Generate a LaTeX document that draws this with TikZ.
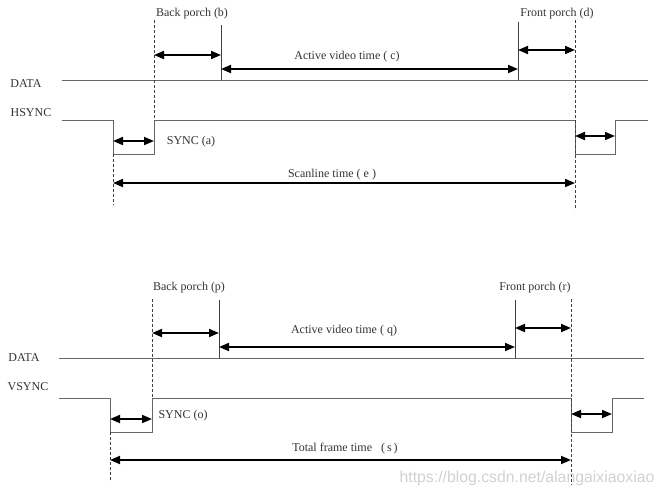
\documentclass[tikz,border=0pt]{standalone}
\usepackage{fontspec}
\setmainfont{Liberation Serif}
\newfontfamily\wmfont{Liberation Sans}
\usetikzlibrary{arrows.meta}
\begin{document}
\begin{tikzpicture}[x=1pt,y=-1pt,
  sig/.style={draw=black!60, line width=0.9pt},
  guide/.style={draw=black!75, line width=0.9pt, dash pattern=on 3pt off 2pt},
  edgeline/.style={draw=black!75, line width=0.9pt},
  span/.style={draw=black, line width=1.8pt, {Triangle[length=10pt,width=8pt]}-{Triangle[length=10pt,width=8pt]}},
  lbl/.style={font=\fontsize{12}{14}\selectfont, text=black!80, inner sep=0pt},
  wm/.style={font=\wmfont\fontsize{15.8}{17}\selectfont, text=black!18, inner sep=0pt}]
\useasboundingbox (0,0) rectangle (664,496);

% ================= TOP (horizontal timing) =================
\node[lbl] (tdata) at (26,84) {DATA};
\node[lbl] (thsync) at (31,113) {HSYNC};

\coordinate (tD0) at (62,80);
\coordinate (tD1) at (648,80);
\draw[sig] (tD0) -- (tD1);

\coordinate (tH0) at (62,120);
\coordinate (tH1) at (113,120);
\coordinate (tH2) at (113,154);
\coordinate (tH3) at (154,154);
\coordinate (tH4) at (154,120);
\coordinate (tH5) at (575,120);
\coordinate (tH6) at (575,154);
\coordinate (tH7) at (615,154);
\coordinate (tH8) at (615,120);
\coordinate (tH9) at (648,120);
\draw[sig] (tH0) -- (tH1) -- (tH2) -- (tH3) -- (tH4) -- (tH5) -- (tH6) -- (tH7) -- (tH8) -- (tH9);

% guides
\coordinate (tGa0) at (154,20);
\draw[guide] (tGa0) -- (tH4);
\coordinate (tGb1) at (113,205);
\draw[guide] (tH2) -- (tGb1);
\coordinate (tGc0) at (575,20);
\coordinate (tGc1) at (575,210);
\draw[guide] (tGc0) -- (tGc1);

% active video edges
\coordinate (tE1a) at (221,25);
\coordinate (tE1b) at (221,80);
\draw[edgeline] (tE1a) -- (tE1b);
\coordinate (tE2a) at (518,22);
\coordinate (tE2b) at (518,80);
\draw[edgeline] (tE2a) -- (tE2b);

% spans
\coordinate (tBPa) at (154,55); \coordinate (tBPb) at (221,55);
\draw[span] (tBPa) -- (tBPb);
\coordinate (tAVa) at (221,69); \coordinate (tAVb) at (518,69);
\draw[span] (tAVa) -- (tAVb);
\coordinate (tFPa) at (518,50); \coordinate (tFPb) at (575,50);
\draw[span] (tFPa) -- (tFPb);
\coordinate (tSYa) at (113,141); \coordinate (tSYb) at (154,141);
\draw[span] (tSYa) -- (tSYb);
\coordinate (tS2a) at (575,136); \coordinate (tS2b) at (615,136);
\draw[span] (tS2a) -- (tS2b);
\coordinate (tSLa) at (113,183); \coordinate (tSLb) at (575,183);
\draw[span] (tSLa) -- (tSLb);

\node[lbl] (tlbp) at (192,14) {Back porch (b)};
\node[lbl] (tlav) at (347,57) {Active video time ( c)};
\node[lbl] (tlfp) at (557,14) {Front porch (d)};
\node[lbl] (tlsy) at (191,142) {SYNC (a)};
\node[lbl] (tlsl) at (332,175) {Scanline time ( e )};

% ================= BOTTOM (vertical timing) =================
\node[lbl] (bdata) at (24,358) {DATA};
\node[lbl] (bvsync) at (28,387) {VSYNC};

\coordinate (bD0) at (59,358);
\coordinate (bD1) at (644,358);
\draw[sig] (bD0) -- (bD1);

\coordinate (bV0) at (59,398);
\coordinate (bV1) at (110,398);
\coordinate (bV2) at (110,432);
\coordinate (bV3) at (152,432);
\coordinate (bV4) at (152,398);
\coordinate (bV5) at (571,398);
\coordinate (bV6) at (571,432);
\coordinate (bV7) at (612,432);
\coordinate (bV8) at (612,398);
\coordinate (bV9) at (644,398);
\draw[sig] (bV0) -- (bV1) -- (bV2) -- (bV3) -- (bV4) -- (bV5) -- (bV6) -- (bV7) -- (bV8) -- (bV9);

\coordinate (bGa0) at (152,299);
\draw[guide] (bGa0) -- (bV4);
\coordinate (bGb1) at (110,482);
\draw[guide] (bV2) -- (bGb1);
\coordinate (bGc0) at (571,299);
\coordinate (bGc1) at (571,485);
\draw[guide] (bGc0) -- (bGc1);

\coordinate (bE1a) at (219,300);
\coordinate (bE1b) at (219,358);
\draw[edgeline] (bE1a) -- (bE1b);
\coordinate (bE2a) at (515,300);
\coordinate (bE2b) at (515,358);
\draw[edgeline] (bE2a) -- (bE2b);

\coordinate (bBPa) at (152,333); \coordinate (bBPb) at (219,333);
\draw[span] (bBPa) -- (bBPb);
\coordinate (bAVa) at (219,347); \coordinate (bAVb) at (515,347);
\draw[span] (bAVa) -- (bAVb);
\coordinate (bFPa) at (515,328); \coordinate (bFPb) at (571,328);
\draw[span] (bFPa) -- (bFPb);
\coordinate (bSYa) at (110,419); \coordinate (bSYb) at (152,419);
\draw[span] (bSYa) -- (bSYb);
\coordinate (bS2a) at (571,414); \coordinate (bS2b) at (612,414);
\draw[span] (bS2a) -- (bS2b);
\coordinate (bTFa) at (110,460); \coordinate (bTFb) at (571,460);
\draw[span] (bTFa) -- (bTFb);

\node[lbl] (blbp) at (189,288) {Back porch (p)};
\node[lbl] (blav) at (344,331) {Active video time ( q)};
\node[lbl] (blfp) at (535,288) {Front porch (r)};
\node[lbl] (blsy) at (183,416) {SYNC (o)};
\node[lbl] (bltf) at (345,449) {Total frame time \ \ (\,s\,)};

\node[wm] (wmark) at (527,478) {https://blog.csdn.net/alangaixiaoxiao};
\end{tikzpicture}
\end{document}
